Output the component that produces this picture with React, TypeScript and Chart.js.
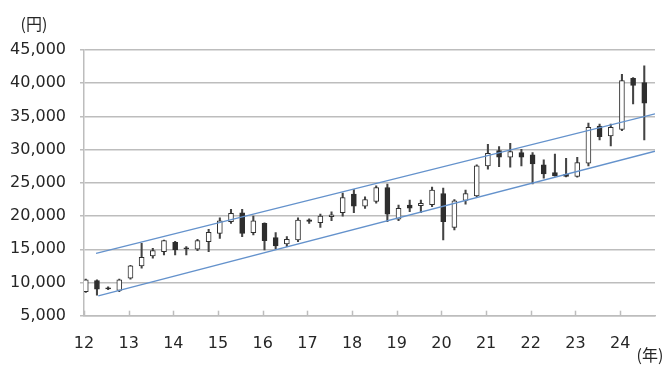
import React, { useEffect, useRef } from 'react';
import { Chart, registerables } from 'chart.js';

Chart.register(...registerables);

// Quarterly candles, 2012 Q1 – 2024 Q3
const quarters = [
  '12Q1','12Q2','12Q3','12Q4','13Q1','13Q2','13Q3','13Q4','14Q1','14Q2','14Q3','14Q4',
  '15Q1','15Q2','15Q3','15Q4','16Q1','16Q2','16Q3','16Q4','17Q1','17Q2','17Q3','17Q4',
  '18Q1','18Q2','18Q3','18Q4','19Q1','19Q2','19Q3','19Q4','20Q1','20Q2','20Q3','20Q4',
  '21Q1','21Q2','21Q3','21Q4','22Q1','22Q2','22Q3','22Q4','23Q1','23Q2','23Q3','23Q4',
  '24Q1','24Q2','24Q3',
];
const openV = [
  8600, 10270, 9200, 8800, 10650, 12500, 14000, 14650, 16050, 15200, 15000, 16150,
  17400, 19150, 20500, 17500, 18900, 16750, 15800, 16400, 19450, 19000, 19900, 20500,
  23300, 21500, 22200, 24300, 19550, 21650, 21550, 21700, 23400, 18300, 22350, 23050,
  27550, 29850, 28850, 29550, 29200, 27700, 26550, 26300, 25950, 27950, 33550, 32050,
  33050, 40750, 40100,
];
const highV = [
  10500, 10400, 9350, 10500, 12600, 15900, 15150, 16400, 16200, 15400, 16500, 18000,
  19750, 21000, 21000, 20000, 19000, 17500, 16900, 19750, 19600, 20300, 20650, 23450,
  24000, 22900, 24550, 24800, 21650, 22400, 22400, 24350, 24200, 22500, 23900, 27700,
  30800, 30450, 30950, 30050, 29550, 28450, 29350, 28700, 28850, 34000, 33850, 33850,
  41350, 40850, 42600,
];
const lowV = [
  8500, 8100, 8900, 8600, 10500, 12150, 13650, 14150, 14150, 14150, 14800, 14650,
  16650, 18900, 16900, 17150, 14900, 15000, 15400, 16150, 18900, 18300, 19300, 20000,
  20500, 21150, 21950, 19150, 19300, 20650, 20500, 21400, 16400, 17900, 21800, 22900,
  27050, 27450, 27350, 27550, 24850, 25700, 26000, 25900, 25850, 27550, 31450, 30550,
  32850, 36900, 31450,
];
const closeV = [
  10400, 8980, 9050, 10400, 12500, 13800, 14800, 16300, 14900, 15050, 16300, 17550,
  19300, 20400, 17400, 19300, 16300, 15500, 16500, 19400, 19200, 20000, 20200, 22800,
  21500, 22500, 24300, 20300, 21150, 21200, 21900, 23900, 19150, 22300, 23400, 27550,
  29450, 28850, 29700, 28850, 27850, 26350, 26050, 25950, 28050, 33350, 31950, 33350,
  40400, 39650, 37000,
];

// Trend channel (year, yen)
const upperLineX = [12.27, 24.78];
const upperLineY = [14400, 35390];
const lowerLineX = [12.32, 24.78];
const lowerLineY = [7970, 29760];

const yearTicks = [12, 13, 14, 15, 16, 17, 18, 19, 20, 21, 22, 23, 24];
const yMin = 5000;
const yMax = 45000;
const yStep = 5000;
const xMin = 12;
const xMax = 24.78;
const yUnit = '(円)';
const xUnit = '(年)';

const gridColor = '#bdbdbd';
const textColor = '#262626';
const candleDark = '#2e2e2e';
const channelColor = '#6492cc';

const decorPlugin = {
  id: 'decor',
  afterDraw(chart: any) {
    const { ctx, scales, chartArea } = chart;
    const x = scales.x;
    ctx.save();
    ctx.strokeStyle = gridColor;
    ctx.lineWidth = 1.5;
    yearTicks.forEach((v) => {
      const px = Math.round(x.getPixelForValue(v)) + 0.5;
      ctx.beginPath();
      ctx.moveTo(px, chartArea.bottom);
      ctx.lineTo(px, chartArea.bottom - 5);
      ctx.stroke();
    });
    ctx.fillStyle = textColor;
    ctx.font = '16px "Noto Sans CJK JP"';
    ctx.textAlign = 'center';
    ctx.textBaseline = 'middle';
    ctx.fillText(yUnit, 34, 24);
    ctx.fillText(xUnit, 650, 355);
    ctx.restore();
  },
};

const App = () => {
  const ref = useRef<HTMLCanvasElement>(null);
  useEffect(() => {
    document.body.style.margin = '0';
    const canvas = ref.current;
    if (!canvas) return;
    const xs = quarters.map((_, i) => xMin + 0.04 + i / 4);
    const bodyData = xs.map((x, i) => ({ x, y: [openV[i], closeV[i]] }));
    const wickData = xs.map((x, i) => ({ x, y: [lowV[i], highV[i]] }));
    const bodyFill = xs.map((_, i) => (closeV[i] >= openV[i] ? '#ffffff' : candleDark));

    const chart = new Chart(canvas, {
      type: 'bar',
      data: {
        datasets: [
          {
            type: 'line',
            data: upperLineX.map((x, i) => ({ x, y: upperLineY[i] })),
            borderColor: channelColor,
            borderWidth: 1.3,
            pointRadius: 0,
            fill: false,
          } as any,
          {
            type: 'line',
            data: lowerLineX.map((x, i) => ({ x, y: lowerLineY[i] })),
            borderColor: channelColor,
            borderWidth: 1.3,
            pointRadius: 0,
            fill: false,
          } as any,
          {
            type: 'bar',
            data: bodyData,
            backgroundColor: bodyFill,
            borderColor: candleDark,
            borderWidth: 1,
            borderSkipped: false,
            barThickness: 5,
            grouped: false,
          } as any,
          {
            type: 'bar',
            data: wickData,
            backgroundColor: '#444444',
            borderWidth: 0,
            barThickness: 1.4,
            grouped: false,
          } as any,
        ],
      },
      options: {
        responsive: false,
        maintainAspectRatio: false,
        animation: false,
        devicePixelRatio: 1,
        layout: { padding: { top: 50, right: 13, bottom: 0, left: 0 } },
        plugins: {
          legend: { display: false },
          tooltip: { enabled: false },
        },
        scales: {
          x: {
            type: 'linear',
            min: xMin,
            max: xMax,
            offset: false,
            grid: { display: false, offset: false, drawTicks: false },
            border: { display: true, color: gridColor, width: 1.5 },
            afterBuildTicks: (scale: any) => {
              scale.ticks = yearTicks.map((v) => ({ value: v }));
            },
            afterFit: (scale: any) => {
              scale.height = 49.3;
            },
            ticks: {
              padding: 19,
              color: textColor,
              font: { family: '"DejaVu Sans"', size: 16 },
              maxRotation: 0,
              autoSkip: false,
              callback: (v: any) => String(v),
            },
          },
          y: {
            type: 'linear',
            min: yMin,
            max: yMax,
            beginAtZero: false,
            grid: { color: gridColor, lineWidth: 1.5, tickLength: 4, drawTicks: true },
            border: { display: true, color: gridColor, width: 1.5 },
            afterFit: (scale: any) => {
              scale.width = 84;
            },
            ticks: {
              stepSize: yStep,
              padding: 14,
              color: textColor,
              font: { family: '"DejaVu Sans"', size: 16 },
              callback: (v: any) => Number(v).toLocaleString('en-US'),
            },
          },
        },
      },
      plugins: [decorPlugin],
    } as any);
    return () => chart.destroy();
  }, []);

  return (
    <canvas
      ref={ref}
      width={668}
      height={365}
      style={{ display: 'block', width: 668, height: 365 }}
    />
  );
};

export default App;
